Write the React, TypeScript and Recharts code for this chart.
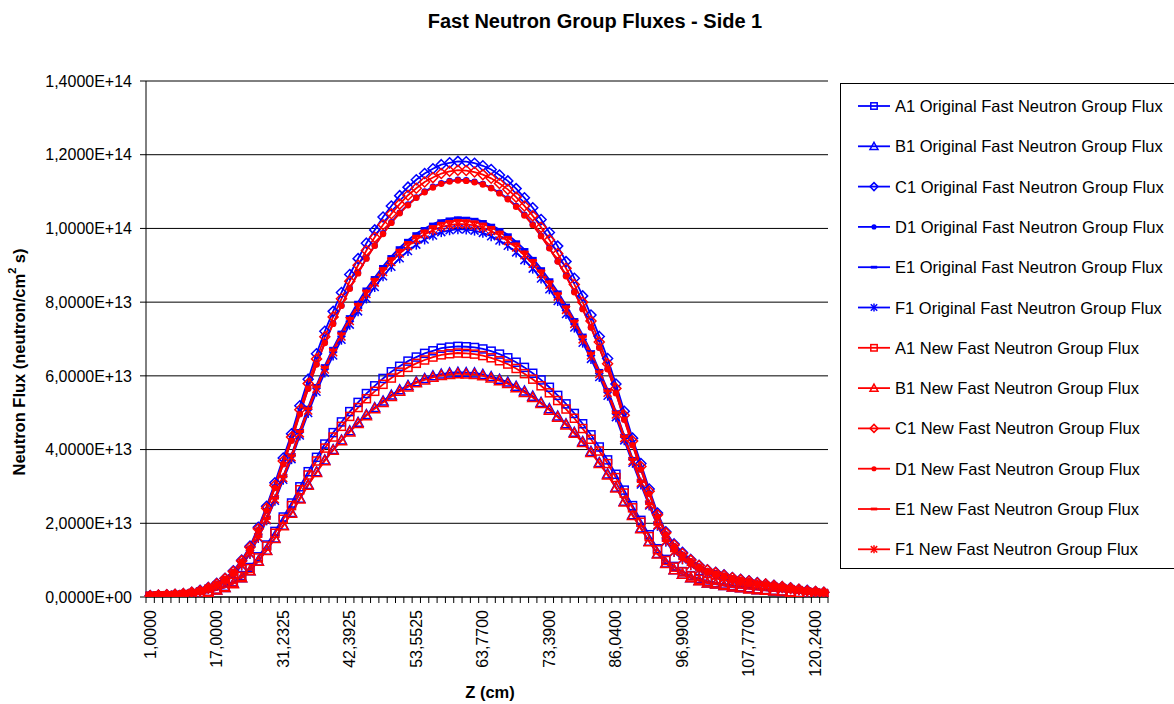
import React from "react";
import { LineChart, Line, XAxis, YAxis, CartesianGrid } from "recharts";

// Z positions (cm) of every mesh point; only every 8th one is labelled
const zValues = [
  1.0, 3.0, 5.0, 7.0, 9.0, 11.0, 13.0, 15.0,
  17.0, 18.7791, 20.5581, 22.3372, 24.1163, 25.8953, 27.6744, 29.4534,
  31.2325, 32.6275, 34.0225, 35.4175, 36.8125, 38.2075, 39.6025, 40.9975,
  42.3925, 43.7875, 45.1825, 46.5775, 47.9725, 49.3675, 50.7625, 52.1575,
  53.5525, 54.9475, 56.3425, 57.7375, 59.1325, 60.2919, 61.4513, 62.6106,
  63.77, 64.9725, 66.175, 67.3775, 68.58, 69.7825, 70.985, 72.1875,
  73.39, 74.9713, 76.5525, 78.1338, 79.715, 81.2963, 82.8775, 84.4588,
  86.04, 87.4088, 88.7775, 90.1463, 91.515, 92.8838, 94.2525, 95.6213,
  96.99, 98.3375, 99.685, 101.0325, 102.38, 103.7275, 105.075, 106.4225,
  107.77, 109.3288, 110.8875, 112.4463, 114.005, 115.5638, 117.1225, 118.6813,
  120.24, 121.8,
];

// fluxes, in units of 1E+12 neutron/cm2 s
const a1Original = [
  0.2, 0.3, 0.3, 0.4, 0.5, 0.7, 1.0, 1.5, 2.1, 2.9,
  4.1, 5.8, 8.0, 10.9, 14.1, 17.8, 21.7, 25.5, 29.9, 34.0,
  37.9, 41.5, 44.6, 47.5, 50.3, 52.8, 55.2, 57.3, 59.3, 61.1,
  62.6, 64.0, 65.1, 66.1, 66.8, 67.5, 67.8, 68.0, 67.9, 67.7,
  67.3, 66.7, 65.9, 64.9, 63.7, 62.3, 60.7, 58.9, 56.9, 54.7,
  52.4, 49.8, 47.0, 44.0, 40.7, 37.2, 33.3, 29.0, 24.8, 20.8,
  16.9, 13.1, 10.2, 8.3, 6.9, 5.8, 5.0, 4.3, 3.9, 3.5,
  3.1, 2.8, 2.5, 2.2, 2.0, 1.8, 1.6, 1.4, 1.2, 1.0,
  0.9, 0.7,
];
const b1Original = [
  0.2, 0.2, 0.3, 0.4, 0.5, 0.7, 0.9, 1.3, 1.9, 2.6,
  3.7, 5.2, 7.1, 9.8, 12.7, 16.0, 19.5, 22.9, 26.8, 30.5,
  34.0, 37.2, 40.0, 42.6, 45.1, 47.4, 49.5, 51.4, 53.2, 54.8,
  56.2, 57.4, 58.4, 59.3, 60.0, 60.5, 60.8, 61.0, 60.9, 60.8,
  60.4, 59.8, 59.1, 58.3, 57.2, 55.9, 54.5, 52.8, 51.1, 49.1,
  47.0, 44.7, 42.2, 39.5, 36.5, 33.4, 29.8, 26.0, 22.3, 18.7,
  15.1, 11.8, 9.2, 7.4, 6.2, 5.2, 4.5, 3.8, 3.5, 3.1,
  2.7, 2.5, 2.3, 2.0, 1.8, 1.6, 1.5, 1.3, 1.1, 0.9,
  0.8, 0.7,
];
const c1Original = [
  0.4, 0.5, 0.6, 0.7, 0.9, 1.3, 1.8, 2.6, 3.7, 5.1,
  7.1, 10.0, 13.8, 18.9, 24.6, 31.0, 37.7, 44.3, 51.9, 59.1,
  66.0, 72.1, 77.5, 82.6, 87.5, 91.8, 96.0, 99.6, 103.1, 106.1,
  108.9, 111.2, 113.2, 114.9, 116.2, 117.3, 117.8, 118.2, 118.1, 117.7,
  117.0, 116.0, 114.5, 112.9, 110.8, 108.3, 105.6, 102.4, 98.9, 95.2,
  91.0, 86.5, 81.7, 76.5, 70.7, 64.7, 57.8, 50.4, 43.1, 36.2,
  29.3, 22.8, 17.7, 14.4, 12.1, 10.2, 8.6, 7.4, 6.7, 6.0,
  5.3, 4.8, 4.4, 3.9, 3.5, 3.2, 2.8, 2.5, 2.1, 1.8,
  1.5, 1.3,
];
const d1Original = [
  0.3, 0.5, 0.6, 0.7, 0.9, 1.2, 1.7, 2.5, 3.5, 4.9,
  6.8, 9.6, 13.2, 18.1, 23.5, 29.7, 36.1, 42.5, 49.7, 56.6,
  63.2, 69.1, 74.3, 79.1, 83.8, 88.0, 91.9, 95.4, 98.7, 101.7,
  104.3, 106.5, 108.4, 110.0, 111.3, 112.3, 112.9, 113.2, 113.1, 112.7,
  112.1, 111.0, 109.7, 108.1, 106.1, 103.7, 101.1, 98.0, 94.7, 91.1,
  87.2, 82.9, 78.2, 73.2, 67.7, 61.9, 55.4, 48.2, 41.3, 34.6,
  28.1, 21.8, 17.0, 13.8, 11.5, 9.7, 8.3, 7.1, 6.5, 5.8,
  5.1, 4.6, 4.2, 3.7, 3.4, 3.1, 2.7, 2.4, 2.0, 1.7,
  1.5, 1.2,
];
const e1Original = [
  0.3, 0.4, 0.5, 0.6, 0.8, 1.1, 1.5, 2.3, 3.2, 4.4,
  6.2, 8.7, 12.0, 16.5, 21.4, 27.0, 32.8, 38.6, 45.2, 51.5,
  57.4, 62.8, 67.5, 71.9, 76.1, 80.0, 83.6, 86.7, 89.7, 92.4,
  94.8, 96.8, 98.6, 100.0, 101.2, 102.1, 102.6, 102.9, 102.8, 102.5,
  101.9, 100.9, 99.7, 98.3, 96.4, 94.3, 91.9, 89.1, 86.1, 82.8,
  79.2, 75.3, 71.1, 66.6, 61.5, 56.3, 50.3, 43.8, 37.6, 31.5,
  25.5, 19.9, 15.4, 12.6, 10.5, 8.8, 7.5, 6.5, 5.9, 5.2,
  4.6, 4.2, 3.8, 3.4, 3.1, 2.8, 2.5, 2.2, 1.9, 1.5,
  1.3, 1.1,
];
const f1Original = [
  0.3, 0.4, 0.5, 0.6, 0.8, 1.1, 1.5, 2.2, 3.1, 4.3,
  6.0, 8.5, 11.7, 16.0, 20.8, 26.1, 31.8, 37.4, 43.8, 49.9,
  55.7, 60.9, 65.5, 69.8, 73.9, 77.5, 81.0, 84.1, 87.0, 89.6,
  91.9, 93.9, 95.6, 97.0, 98.1, 99.0, 99.5, 99.8, 99.7, 99.4,
  98.8, 97.9, 96.7, 95.3, 93.5, 91.4, 89.1, 86.4, 83.5, 80.3,
  76.8, 73.1, 69.0, 64.6, 59.7, 54.6, 48.8, 42.5, 36.4, 30.5,
  24.8, 19.3, 15.0, 12.2, 10.2, 8.6, 7.3, 6.3, 5.7, 5.1,
  4.5, 4.1, 3.7, 3.3, 3.0, 2.7, 2.4, 2.1, 1.8, 1.5,
  1.3, 1.1,
];
const a1New = [
  0.2, 0.3, 0.3, 0.4, 0.5, 0.7, 1.0, 1.5, 2.1, 2.8,
  4.0, 5.6, 7.7, 10.6, 13.8, 17.3, 21.1, 24.8, 29.1, 33.1,
  36.9, 40.4, 43.4, 46.3, 49.0, 51.4, 53.8, 55.8, 57.7, 59.4,
  61.0, 62.3, 63.4, 64.3, 65.1, 65.7, 66.0, 66.2, 66.1, 65.9,
  65.5, 64.9, 64.1, 63.2, 62.0, 60.6, 59.1, 57.3, 55.4, 53.3,
  51.0, 48.5, 45.7, 42.8, 39.6, 36.2, 32.4, 28.2, 24.2, 20.3,
  16.4, 12.8, 9.9, 8.1, 6.8, 5.7, 4.8, 4.2, 3.8, 3.4,
  3.0, 2.7, 2.4, 2.2, 2.0, 1.8, 1.6, 1.4, 1.2, 1.0,
  0.9, 0.7,
];
const b1New = [
  0.2, 0.2, 0.3, 0.4, 0.5, 0.7, 0.9, 1.3, 1.9, 2.6,
  3.6, 5.2, 7.1, 9.7, 12.6, 15.9, 19.3, 22.7, 26.6, 30.3,
  33.8, 37.0, 39.8, 42.4, 44.8, 47.1, 49.2, 51.1, 52.8, 54.4,
  55.8, 57.0, 58.1, 58.9, 59.6, 60.1, 60.4, 60.6, 60.5, 60.4,
  60.0, 59.4, 58.7, 57.9, 56.8, 55.5, 54.1, 52.5, 50.7, 48.8,
  46.7, 44.4, 41.9, 39.2, 36.2, 33.1, 29.6, 25.8, 22.1, 18.5,
  15.0, 11.7, 9.1, 7.4, 6.2, 5.2, 4.4, 3.8, 3.5, 3.1,
  2.7, 2.5, 2.2, 2.0, 1.8, 1.6, 1.5, 1.3, 1.1, 0.9,
  0.8, 0.7,
];
const c1New = [
  0.3, 0.5, 0.6, 0.7, 0.9, 1.3, 1.7, 2.5, 3.6, 5.0,
  6.9, 9.8, 13.5, 18.5, 24.1, 30.3, 36.9, 43.4, 50.8, 57.9,
  64.6, 70.6, 76.0, 80.9, 85.7, 90.0, 94.0, 97.6, 101.0, 104.0,
  106.6, 109.0, 110.9, 112.6, 113.8, 114.9, 115.5, 115.8, 115.7, 115.3,
  114.6, 113.6, 112.2, 110.6, 108.5, 106.1, 103.4, 100.3, 96.9, 93.2,
  89.2, 84.8, 80.0, 74.9, 69.2, 63.3, 56.6, 49.3, 42.3, 35.4,
  28.7, 22.3, 17.4, 14.1, 11.8, 10.0, 8.5, 7.3, 6.6, 5.9,
  5.2, 4.7, 4.3, 3.8, 3.5, 3.1, 2.8, 2.4, 2.1, 1.7,
  1.5, 1.3,
];
const d1New = [
  0.3, 0.5, 0.6, 0.7, 0.9, 1.2, 1.7, 2.5, 3.5, 4.9,
  6.8, 9.6, 13.2, 18.1, 23.5, 29.6, 36.0, 42.4, 49.6, 56.5,
  63.1, 68.9, 74.1, 79.0, 83.6, 87.8, 91.8, 95.3, 98.5, 101.5,
  104.1, 106.3, 108.3, 109.8, 111.1, 112.1, 112.7, 113.0, 112.9, 112.5,
  111.9, 110.9, 109.5, 107.9, 105.9, 103.5, 100.9, 97.9, 94.6, 91.0,
  87.0, 82.7, 78.1, 73.1, 67.6, 61.8, 55.3, 48.1, 41.2, 34.6,
  28.0, 21.8, 17.0, 13.8, 11.5, 9.7, 8.2, 7.1, 6.4, 5.8,
  5.1, 4.6, 4.2, 3.7, 3.4, 3.1, 2.7, 2.4, 2.0, 1.7,
  1.5, 1.2,
];
const e1New = [
  0.3, 0.4, 0.5, 0.6, 0.8, 1.1, 1.5, 2.2, 3.2, 4.4,
  6.1, 8.7, 12.0, 16.4, 21.3, 26.8, 32.6, 38.3, 44.9, 51.1,
  57.0, 62.3, 67.0, 71.4, 75.6, 79.4, 83.0, 86.2, 89.1, 91.8,
  94.1, 96.2, 97.9, 99.3, 100.5, 101.4, 101.9, 102.2, 102.1, 101.8,
  101.2, 100.3, 99.0, 97.6, 95.8, 93.6, 91.3, 88.5, 85.5, 82.3,
  78.7, 74.8, 70.6, 66.1, 61.1, 55.9, 50.0, 43.5, 37.3, 31.3,
  25.3, 19.7, 15.3, 12.5, 10.4, 8.8, 7.5, 6.4, 5.8, 5.2,
  4.6, 4.2, 3.8, 3.4, 3.1, 2.8, 2.5, 2.1, 1.8, 1.5,
  1.3, 1.1,
];
const f1New = [
  0.3, 0.4, 0.5, 0.6, 0.8, 1.1, 1.5, 2.2, 3.1, 4.4,
  6.1, 8.6, 11.8, 16.2, 21.0, 26.5, 32.3, 37.9, 44.4, 50.6,
  56.5, 61.7, 66.4, 70.7, 74.9, 78.6, 82.2, 85.3, 88.2, 90.9,
  93.2, 95.2, 96.9, 98.4, 99.5, 100.4, 100.9, 101.2, 101.1, 100.8,
  100.2, 99.3, 98.1, 96.6, 94.8, 92.7, 90.4, 87.6, 84.7, 81.5,
  77.9, 74.1, 69.9, 65.5, 60.5, 55.4, 49.5, 43.1, 36.9, 31.0,
  25.1, 19.5, 15.2, 12.3, 10.3, 8.7, 7.4, 6.4, 5.8, 5.2,
  4.6, 4.1, 3.7, 3.3, 3.0, 2.7, 2.4, 2.1, 1.8, 1.5,
  1.3, 1.1,
];

const yTicks = [0, 2e13, 4e13, 6e13, 8e13, 1e14, 1.2e14, 1.4e14];

const BLUE = "#0000FF";
const RED = "#FF0000";

const series = [
  { key: "a1o", name: "A1 Original Fast Neutron Group Flux", values: a1Original, color: BLUE, shape: "square" },
  { key: "b1o", name: "B1 Original Fast Neutron Group Flux", values: b1Original, color: BLUE, shape: "triangle" },
  { key: "c1o", name: "C1 Original Fast Neutron Group Flux", values: c1Original, color: BLUE, shape: "diamond" },
  { key: "d1o", name: "D1 Original Fast Neutron Group Flux", values: d1Original, color: BLUE, shape: "circle" },
  { key: "e1o", name: "E1 Original Fast Neutron Group Flux", values: e1Original, color: BLUE, shape: "dash" },
  { key: "f1o", name: "F1 Original Fast Neutron Group Flux", values: f1Original, color: BLUE, shape: "star" },
  { key: "a1n", name: "A1 New Fast Neutron Group Flux", values: a1New, color: RED, shape: "square" },
  { key: "b1n", name: "B1 New Fast Neutron Group Flux", values: b1New, color: RED, shape: "triangle" },
  { key: "c1n", name: "C1 New Fast Neutron Group Flux", values: c1New, color: RED, shape: "diamond" },
  { key: "d1n", name: "D1 New Fast Neutron Group Flux", values: d1New, color: RED, shape: "circle" },
  { key: "e1n", name: "E1 New Fast Neutron Group Flux", values: e1New, color: RED, shape: "dash" },
  { key: "f1n", name: "F1 New Fast Neutron Group Flux", values: f1New, color: RED, shape: "star" },
];

const rows = zValues.map((z, i) => {
  const row: any = { z };
  series.forEach((s) => {
    row[s.key] = s.values[i] * 1e12;
  });
  return row;
});

// layout
const W = 1174;
const H = 704;
const PLOT_LEFT = 146;
const PLOT_RIGHT = 828;
const PLOT_TOP = 81;
const PLOT_BOTTOM = 597;
const BAND = (PLOT_RIGHT - PLOT_LEFT) / zValues.length;
const FONT = "'Liberation Sans', Arial, sans-serif";

const fmtComma = (v: number) => v.toFixed(4).replace(".", ",");

const fmtFlux = (v: number) => {
  if (v === 0) return "0,0000E+00";
  const exp = Math.floor(Math.log10(v) + 1e-9);
  const mant = v / Math.pow(10, exp);
  return `${fmtComma(mant)}E+${String(exp).padStart(2, "0")}`;
};

function Marker({ shape, cx, cy, color, s = 1 }: any) {
  const sw = 1.5;
  switch (shape) {
    case "square":
      return <rect x={cx - 4 * s} y={cy - 4 * s} width={8 * s} height={8 * s} fill="none" stroke={color} strokeWidth={sw} />;
    case "triangle":
      return (
        <polygon
          points={`${cx},${cy - 5 * s} ${cx + 5 * s},${cy + 4 * s} ${cx - 5 * s},${cy + 4 * s}`}
          fill="none"
          stroke={color}
          strokeWidth={sw}
        />
      );
    case "diamond":
      return (
        <polygon
          points={`${cx},${cy - 5 * s} ${cx + 5 * s},${cy} ${cx},${cy + 5 * s} ${cx - 5 * s},${cy}`}
          fill="none"
          stroke={color}
          strokeWidth={sw}
        />
      );
    case "circle":
      return <circle cx={cx} cy={cy} r={3.2 * s} fill={color} />;
    case "dash":
      return <rect x={cx - 4 * s} y={cy - 1.4} width={8 * s} height={2.8} fill={color} />;
    case "star":
      return (
        <g stroke={color} strokeWidth={sw}>
          <line x1={cx - 4 * s} y1={cy - 4 * s} x2={cx + 4 * s} y2={cy + 4 * s} />
          <line x1={cx - 4 * s} y1={cy + 4 * s} x2={cx + 4 * s} y2={cy - 4 * s} />
          <line x1={cx} y1={cy - 5 * s} x2={cx} y2={cy + 5 * s} />
        </g>
      );
    default:
      return null;
  }
}

function XTick(props: any) {
  const { x, payload } = props;
  const idx = payload.index;
  const ty = PLOT_BOTTOM + 13;
  return (
    <g>
      <line x1={x - BAND / 2} y1={PLOT_BOTTOM} x2={x - BAND / 2} y2={PLOT_BOTTOM + 6} stroke="#000" />
      {idx === zValues.length - 1 && (
        <line x1={x + BAND / 2} y1={PLOT_BOTTOM} x2={x + BAND / 2} y2={PLOT_BOTTOM + 6} stroke="#000" />
      )}
      {idx % 8 === 0 && (
        <text
          x={x}
          y={ty}
          transform={`rotate(-90 ${x} ${ty})`}
          textAnchor="end"
          dominantBaseline="central"
          fill="#000"
          fontSize={16}
          fontFamily={FONT}
        >
          {fmtComma(payload.value)}
        </text>
      )}
    </g>
  );
}

export default function App() {
  const legendTop = 83;
  const rowGap = 40.3;
  return (
    <div style={{ position: "absolute", left: 0, top: 0, width: W, height: H, overflow: "hidden", background: "#fff" }}>
      <LineChart
        width={W}
        height={H}
        data={rows}
        margin={{ top: PLOT_TOP, right: W - PLOT_RIGHT, bottom: 17, left: 0 }}
      >
        <CartesianGrid vertical={false} stroke="#000" strokeWidth={1} />
        <XAxis
          dataKey="z"
          interval={0}
          height={H - PLOT_BOTTOM - 17}
          padding={{ left: BAND / 2, right: BAND / 2 }}
          tickLine={false}
          axisLine={{ stroke: "#000" }}
          tick={<XTick />}
        />
        <YAxis
          width={PLOT_LEFT}
          domain={[0, 1.4e14]}
          ticks={yTicks}
          allowDataOverflow
          tickFormatter={fmtFlux}
          tickSize={6}
          tickMargin={8}
          tickLine={{ stroke: "#000" }}
          axisLine={{ stroke: "#000" }}
          tick={{ fill: "#000", fontSize: 16, fontFamily: FONT }}
        />
        <YAxis
          yAxisId="frame"
          orientation="right"
          width={0}
          tick={false}
          tickLine={false}
          axisLine={{ stroke: "#808080" }}
        />
        {series.map((s) => (
          <Line
            key={s.key}
            type="linear"
            dataKey={s.key}
            name={s.name}
            stroke={s.color}
            strokeWidth={1.8}
            isAnimationActive={false}
            activeDot={false}
            dot={(p: any) => (
              <Marker key={`${s.key}-${p.index}`} shape={s.shape} cx={p.cx} cy={p.cy} color={s.color} />
            )}
          />
        ))}
      </LineChart>

      <svg width={W} height={H} style={{ position: "absolute", left: 0, top: 0, pointerEvents: "none" }}>
        <text x={595} y={21} textAnchor="middle" dominantBaseline="central" fontSize={20} fontWeight="bold" fontFamily={FONT}>
          Fast Neutron Group Fluxes - Side 1
        </text>
        <text x={490} y={692} textAnchor="middle" dominantBaseline="central" fontSize={16.5} fontWeight="bold" fontFamily={FONT}>
          Z (cm)
        </text>
        <text
          x={19}
          y={362}
          transform="rotate(-90 19 362)"
          textAnchor="middle"
          dominantBaseline="central"
          fontSize={16.5}
          fontWeight="bold"
          fontFamily={FONT}
        >
          Neutron Flux (neutron/cm
          <tspan fontSize={11} dy={-7}>2</tspan>
          <tspan dy={7}> s)</tspan>
        </text>

        <rect x={840.5} y={legendTop + 0.5} width={345} height={485} fill="#fff" stroke="#000" strokeWidth={1} />
        {series.map((s, i) => {
          const cy = 106 + i * rowGap;
          return (
            <g key={s.key}>
              <line x1={858} y1={cy} x2={890} y2={cy} stroke={s.color} strokeWidth={1.8} />
              <Marker shape={s.shape} cx={874} cy={cy} color={s.color} s={0.8} />
              <text x={895} y={cy} dominantBaseline="central" fontSize={16.5} fontFamily={FONT} fill="#000">
                {s.name}
              </text>
            </g>
          );
        })}
      </svg>
    </div>
  );
}
